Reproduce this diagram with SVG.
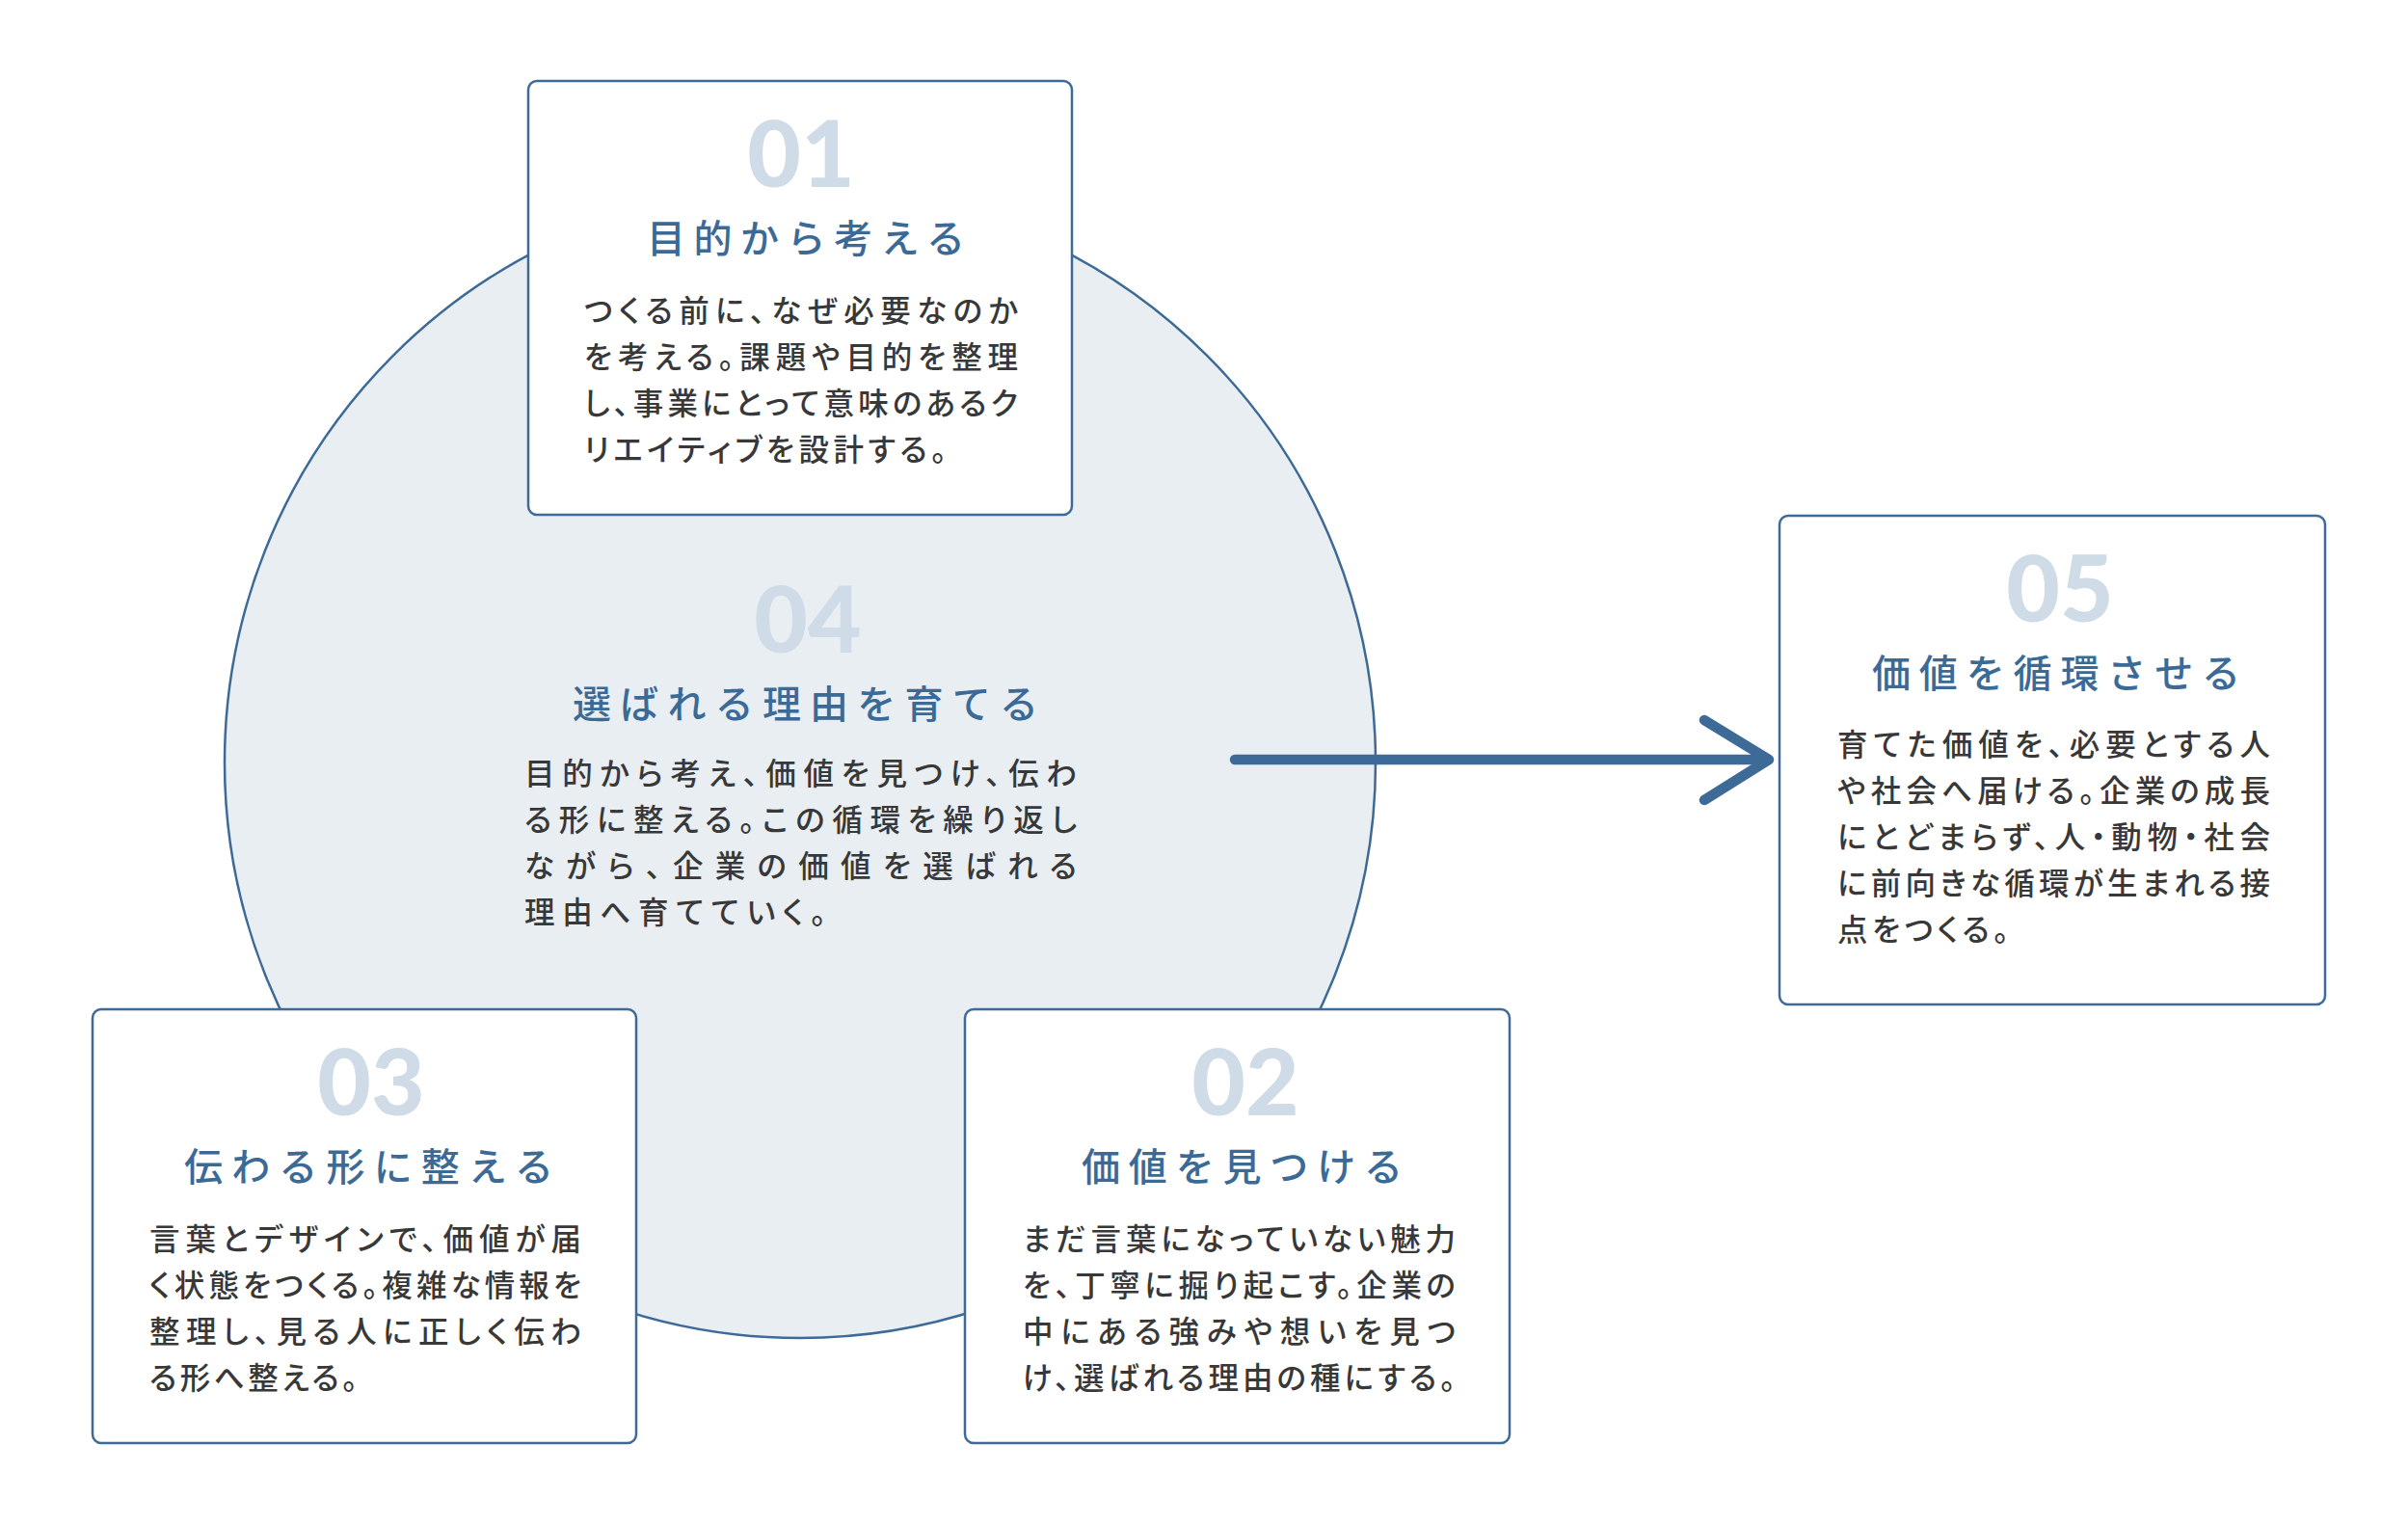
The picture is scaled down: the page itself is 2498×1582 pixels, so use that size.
<svg xmlns="http://www.w3.org/2000/svg" width="2498" height="1582" viewBox="0 0 2498 1582">
<style>
.box{fill:#ffffff;stroke:#3d6a96;stroke-width:2.5}
.num{font-family:Lato,"Open Sans",sans-serif;font-weight:900;font-size:96px;fill:#cfdbe6;text-anchor:middle}
.ttl{font-family:"Noto Sans CJK JP","Noto Sans",sans-serif;font-weight:500;font-size:40px;fill:#3b6a97}
.body{font-family:"Noto Sans CJK JP","Noto Sans",sans-serif;font-weight:500;font-size:31.5px;fill:#383838;letter-spacing:1px;font-feature-settings:"palt"}
.conn{fill:none;stroke:#3d6a96;stroke-width:10.5;stroke-linecap:round;stroke-linejoin:round}
</style>
<rect width="2498" height="1582" fill="#ffffff"/>
<g id="cycle">
<circle cx="830" cy="791" r="597" fill="#e9eef3" stroke="#3d6a96" stroke-width="2.5"/>
</g>
<g id="node04">
<text class="num" x="838" y="677">04</text>
<text class="ttl" x="594" y="745" textLength="483" lengthAdjust="spacing">選ばれる理由を育てる</text>
<text class="body" x="544" y="814" textLength="574" lengthAdjust="spacing">目的から考え、価値を見つけ、伝わ</text>
<text class="body" x="544" y="862" textLength="574" lengthAdjust="spacing">る形に整える。この循環を繰り返し</text>
<text class="body" x="544" y="910" textLength="574" lengthAdjust="spacing">ながら、企業の価値を選ばれる</text>
<text class="body" x="544" y="958" textLength="314" lengthAdjust="spacing">理由へ育てていく。</text>
</g>
<g id="connectors">
<path class="conn" d="M1281 788 H1834"/>
<path class="conn" d="M1768 747 L1835 788 L1768 830"/>
</g>
<g id="node01">
<rect class="box" x="548" y="84" width="564" height="450" rx="9"/>
<text class="num" x="831" y="194">01</text>
<text class="ttl" x="671" y="262" textLength="330" lengthAdjust="spacing">目的から考える</text>
<text class="body" x="606" y="334" textLength="451" lengthAdjust="spacing">つくる前に、なぜ必要なのか</text>
<text class="body" x="606" y="382" textLength="451" lengthAdjust="spacing">を考える。課題や目的を整理</text>
<text class="body" x="606" y="430" textLength="451" lengthAdjust="spacing">し、事業にとって意味のあるク</text>
<text class="body" x="606" y="478" textLength="377" lengthAdjust="spacing">リエイティブを設計する。</text>
</g>
<g id="node05">
<rect class="box" x="1846" y="535" width="566" height="507" rx="9"/>
<text class="num" x="2137" y="645">05</text>
<text class="ttl" x="1942" y="713" textLength="382" lengthAdjust="spacing">価値を循環させる</text>
<text class="body" x="1906" y="784" textLength="450" lengthAdjust="spacing">育てた価値を、必要とする人</text>
<text class="body" x="1906" y="832" textLength="450" lengthAdjust="spacing">や社会へ届ける。企業の成長</text>
<text class="body" x="1906" y="880" textLength="450" lengthAdjust="spacing">にとどまらず、人・動物・社会</text>
<text class="body" x="1906" y="928" textLength="450" lengthAdjust="spacing">に前向きな循環が生まれる接</text>
<text class="body" x="1906" y="976" textLength="179" lengthAdjust="spacing">点をつくる。</text>
</g>
<g id="node03">
<rect class="box" x="96" y="1047" width="564" height="450" rx="9"/>
<text class="num" x="385" y="1157">03</text>
<text class="ttl" x="191" y="1225" textLength="383" lengthAdjust="spacing">伝わる形に整える</text>
<text class="body" x="155" y="1297" textLength="449" lengthAdjust="spacing">言葉とデザインで、価値が届</text>
<text class="body" x="155" y="1345" textLength="449" lengthAdjust="spacing">く状態をつくる。複雑な情報を</text>
<text class="body" x="155" y="1393" textLength="449" lengthAdjust="spacing">整理し、見る人に正しく伝わ</text>
<text class="body" x="155" y="1441" textLength="217" lengthAdjust="spacing">る形へ整える。</text>
</g>
<g id="node02">
<rect class="box" x="1001" y="1047" width="565" height="450" rx="9"/>
<text class="num" x="1292" y="1157">02</text>
<text class="ttl" x="1122" y="1225" textLength="333" lengthAdjust="spacing">価値を見つける</text>
<text class="body" x="1061" y="1297" textLength="450" lengthAdjust="spacing">まだ言葉になっていない魅力</text>
<text class="body" x="1061" y="1345" textLength="450" lengthAdjust="spacing">を、丁寧に掘り起こす。企業の</text>
<text class="body" x="1061" y="1393" textLength="450" lengthAdjust="spacing">中にある強みや想いを見つ</text>
<text class="body" x="1061" y="1441" textLength="450" lengthAdjust="spacing">け、選ばれる理由の種にする。</text>
</g>
</svg>
